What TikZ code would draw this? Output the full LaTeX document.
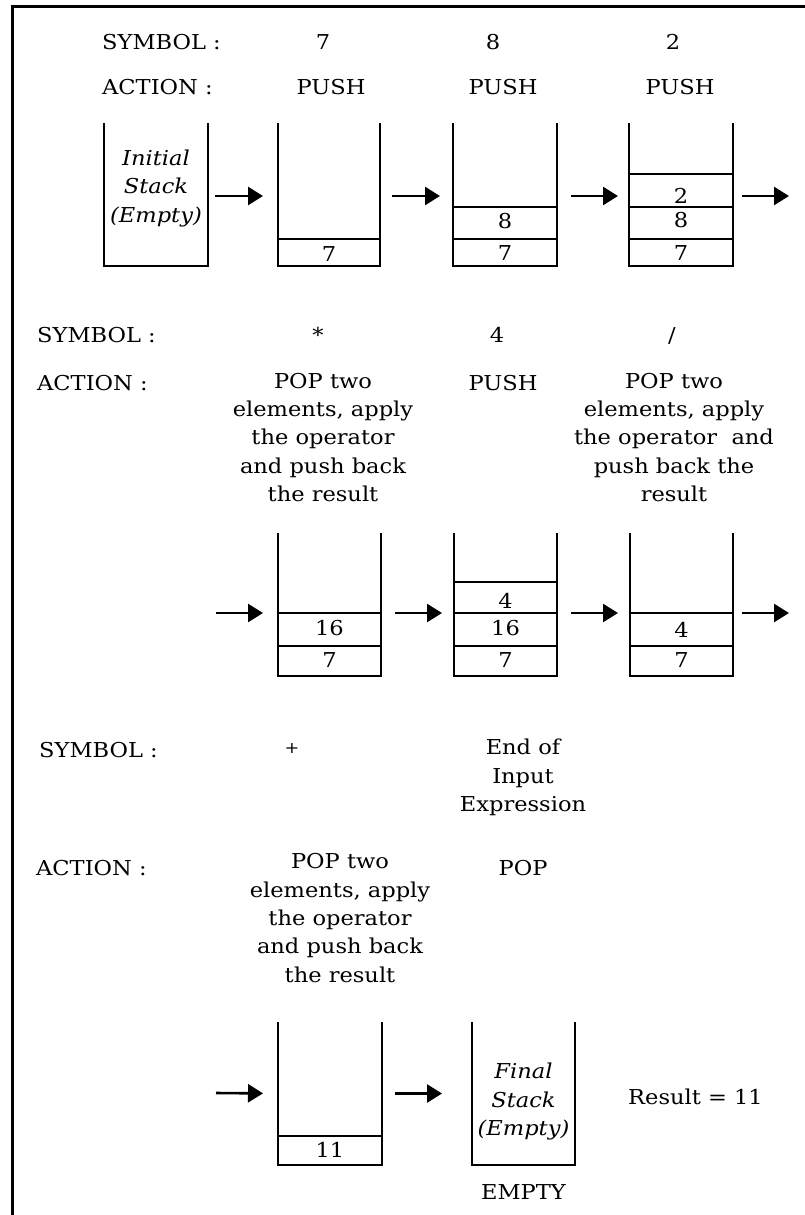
\documentclass[tikz,border=0pt]{standalone}
\usepackage{fontspec}
\setmainfont{DejaVu Serif}[FakeStretch=1.1]
\usetikzlibrary{arrows.meta}
\begin{document}
\begin{tikzpicture}[x=1pt,y=-1pt,
  frame/.style={line width=3pt},
  wall/.style={line width=2.8pt,line join=miter},
  cell/.style={line width=2.4pt},
  arr/.style={line width=2.6pt,-{Triangle[length=15pt,width=18pt]}},
  stk/.style={inner sep=0pt,outer sep=0pt,minimum width=103pt,minimum height=143pt},
  lbl/.style={inner sep=0pt,font=\fontsize{20.5}{28.3}\selectfont,anchor=base},
  ml/.style={lbl,align=center},
  it/.style={ml,font=\fontsize{20.5}{28.3}\selectfont\itshape},
  num/.style={inner sep=0pt,font=\fontsize{20.5}{24}\selectfont,anchor=center}
]
\useasboundingbox (0,0) rectangle (805,1215);
\draw[frame] (12,1215) -- (12,6.5) -- (805,6.5);

% ---------- row 1 ----------
\node[lbl,anchor=base west] (sym1) at (102,50) {SYMBOL :};
\node[lbl,anchor=base west] (act1) at (102,94) {ACTION :};
\node[lbl] (v7) at (323,50) {7};
\node[lbl] (a7) at (331,94) {PUSH};
\node[lbl] (v8) at (493,50) {8};
\node[lbl] (a8) at (503,94) {PUSH};
\node[lbl] (v2) at (673,50) {2};
\node[lbl] (a2) at (680,94) {PUSH};

\node[stk,minimum width=104pt] (s0) at (156,194.5) {};
\node[stk,minimum width=102pt] (s1) at (329,194.5) {};
\node[stk,minimum width=104pt] (s2) at (505,194.5) {};
\node[stk,minimum width=104pt] (s3) at (681,194.5) {};
\foreach \s in {s0,s1,s2,s3}
  \draw[wall] (\s.north west) -- (\s.south west) -- (\s.south east) -- (\s.north east);
\draw[cell] (s1.west |- 0,239) -- (s1.east |- 0,239);
\draw[cell] (s2.west |- 0,239) -- (s2.east |- 0,239);
\draw[cell] (s2.west |- 0,207) -- (s2.east |- 0,207);
\draw[cell] (s3.west |- 0,239) -- (s3.east |- 0,239);
\draw[cell] (s3.west |- 0,207) -- (s3.east |- 0,207);
\draw[cell] (s3.west |- 0,174) -- (s3.east |- 0,174);

\node[it] (init) at (156,222) {Initial\\Stack\\(Empty)};
\node[num] (c17) at (329,254) {7};
\node[num] (c28) at (505,221.5) {8};
\node[num] (c27) at (505,253.5) {7};
\node[num] (c32) at (681,196) {2};
\node[num] (c38) at (681,220.5) {8};
\node[num] (c37) at (681,253.5) {7};

\coordinate (o1) at (789,196);
\draw[arr,shorten <=7pt,shorten >=15pt] ([yshift=-1.5pt]s0.east) -- ([yshift=-1.5pt]s1.west);
\draw[arr,shorten <=12pt,shorten >=13pt] ([yshift=-1.5pt]s1.east) -- ([yshift=-1.5pt]s2.west);
\draw[arr,shorten <=14pt,shorten >=11pt] ([yshift=-1.5pt]s2.east) -- ([yshift=-1.5pt]s3.west);
\draw[arr,shorten <=9pt] ([yshift=-1.5pt]s3.east) -- (o1);

% ---------- row 2 ----------
\node[lbl,anchor=base west] (sym2) at (37,342) {SYMBOL :};
\node[lbl,anchor=base west] (act2) at (37,390) {ACTION :};
\node[lbl] (vmul) at (318,342) {*};
\node[lbl] (v4) at (497,342) {4};
\node[lbl] (vdiv) at (672,342) {/};
\node[ml] (amul) at (323,501.5) {POP two\\elements, apply\\the operator\\and push back\\the result};
\node[lbl] (a4) at (503,390) {PUSH};
\node[ml] (adiv) at (674,501.5) {POP two\\elements, apply\\the operator~ and\\push back the\\result};

\node[stk] (sa) at (329.5,604.5) {};
\node[stk] (sb) at (505.5,604.5) {};
\node[stk] (sc) at (681.5,604.5) {};
\foreach \s in {sa,sb,sc}
  \draw[wall] (\s.north west) -- (\s.south west) -- (\s.south east) -- (\s.north east);
\draw[cell] (sa.west |- 0,613) -- (sa.east |- 0,613);
\draw[cell] (sa.west |- 0,646) -- (sa.east |- 0,646);
\draw[cell] (sb.west |- 0,582) -- (sb.east |- 0,582);
\draw[cell] (sb.west |- 0,613) -- (sb.east |- 0,613);
\draw[cell] (sb.west |- 0,646) -- (sb.east |- 0,646);
\draw[cell] (sc.west |- 0,613) -- (sc.east |- 0,613);
\draw[cell] (sc.west |- 0,646) -- (sc.east |- 0,646);
\node[num] (ca16) at (329.5,628.5) {16};
\node[num] (ca7) at (329.5,660) {7};
\node[num] (cb4) at (505.5,600.5) {4};
\node[num] (cb16) at (505.5,628.5) {16};
\node[num] (cb7) at (505.5,660) {7};
\node[num] (cc4) at (681.5,629.5) {4};
\node[num] (cc7) at (681.5,660) {7};

\coordinate (i2) at (216,613);
\coordinate (o2) at (789,613);
\draw[arr,shorten >=15pt] (i2) -- ([yshift=-8.5pt]sa.west);
\draw[arr,shorten <=14pt,shorten >=12pt] ([yshift=-8.5pt]sa.east) -- ([yshift=-8.5pt]sb.west);
\draw[arr,shorten <=14pt,shorten >=12pt] ([yshift=-8.5pt]sb.east) -- ([yshift=-8.5pt]sc.west);
\draw[arr,shorten <=9pt] ([yshift=-8.5pt]sc.east) -- (o2);

% ---------- row 3 ----------
\node[lbl,anchor=base west] (sym3) at (39,757) {SYMBOL :};
\node[lbl,font=\fontsize{16}{18}\selectfont] (vadd) at (292,753) {+};
\node[ml] (vend) at (523,811.5) {End of\\Input\\Expression};
\node[lbl,anchor=base west] (act3) at (36,875) {ACTION :};
\node[ml] (aadd) at (340,982) {POP two\\elements, apply\\the operator\\and push back\\the result};
\node[lbl] (aend) at (523,875) {POP};

\node[stk,minimum width=104pt] (sd) at (330,1093.5) {};
\node[stk] (se) at (523.5,1093.5) {};
\foreach \s in {sd,se}
  \draw[wall] (\s.north west) -- (\s.south west) -- (\s.south east) -- (\s.north east);
\draw[cell] (sd.west |- 0,1136) -- (sd.east |- 0,1136);
\node[num] (cd11) at (330,1150) {11};
\node[it] (fin) at (523.5,1135.5) {Final\\Stack\\(Empty)};
\node[lbl,anchor=base west] (res) at (628,1104) {Result = 11};
\node[lbl] (empty) at (523.5,1199) {EMPTY};

\coordinate (i3) at (216,1093);
\draw[arr,shorten >=15pt] (i3) -- (sd.west);
\draw[arr,shorten <=13pt,shorten >=30pt] (sd.east) -- (se.west);
\end{tikzpicture}
\end{document}
